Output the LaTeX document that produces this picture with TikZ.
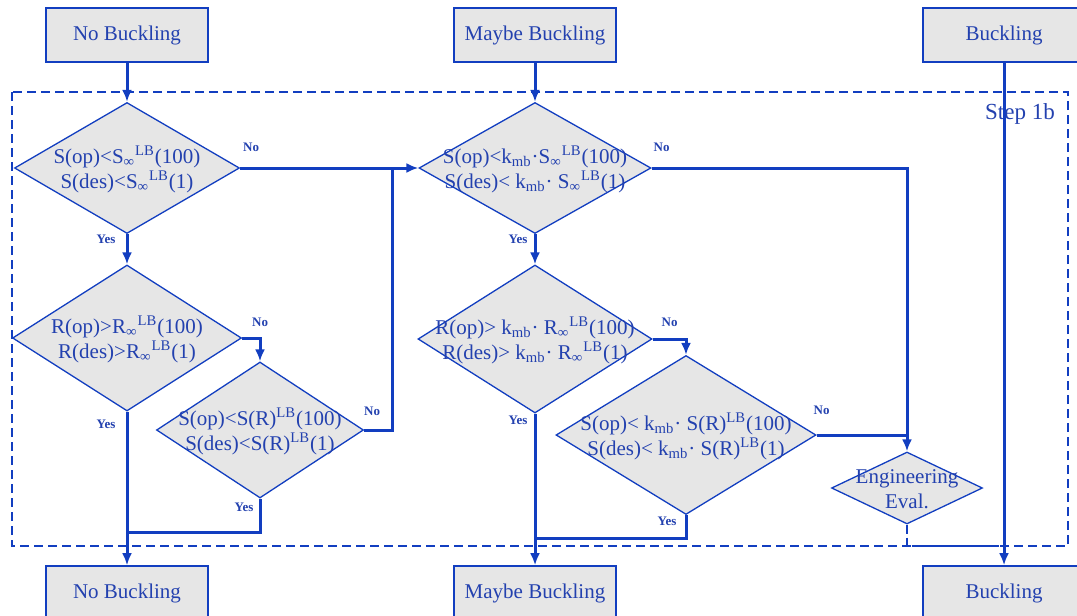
\documentclass[tikz,border=0pt]{standalone}
\usepackage{fontspec}
\setmainfont{Liberation Serif}
\usetikzlibrary{calc, arrows.meta, shapes.geometric}

\definecolor{flowblue}{RGB}{18,62,192}
\definecolor{textblue}{RGB}{35,65,175}
\definecolor{boxgray}{RGB}{230,230,230}

\tikzset{
	outcome/.style={draw=flowblue, line width=0.8pt, fill=boxgray, text=textblue,
		minimum width=81pt, minimum height=27pt, inner sep=0pt,
		font=\fontsize{10.5}{12}\selectfont},
	decision/.style={diamond, draw=flowblue, line width=0.65pt, fill=boxgray,
		inner sep=0pt, aspect=1},
	dtext/.style={text=textblue, align=center, inner sep=0pt,
		font=\fontsize{10.5}{12.5}\selectfont},
	yesno/.style={text=textblue, inner sep=0pt,
		font=\fontsize{6.5}{7}\selectfont\bfseries},
	flow/.style={draw=flowblue, line width=1.5pt},
	flowarrow/.style={flow, -{Latex[length=6pt,width=5pt]}},
	stepbox/.style={draw=flowblue, line width=1.3pt, dash pattern=on 4.5pt off 2.5pt}
}

\begin{document}
\begin{tikzpicture}[x=0.5pt, y=-0.5pt]

	\useasboundingbox (0,0) rectangle (1077,616);

	\coordinate (ljoin) at (127,532);
	\coordinate (lmerge) at (392,168);
	\coordinate (mjoin) at (535,538);
	\coordinate (rjoin) at (1004,546);

	% Step 1b frame
	\draw[stepbox] (12,92) rectangle (1068,546);
	\node[text=textblue, inner sep=0pt, font=\fontsize{11.5}{12}\selectfont]
		(steplbl) at (1020,114) {Step 1b};

	% Outcome boxes
	\node[outcome] (nbtop) at (127,35) {No Buckling};
	\node[outcome] (mbtop) at (535,35) {Maybe Buckling};
	\node[outcome] (bktop) at (1004,35) {Buckling};
	\node[outcome] (nbbot) at (127,593) {No Buckling};
	\node[outcome] (mbbot) at (535,593) {Maybe Buckling};
	\node[outcome] (bkbot) at (1004,593) {Buckling};

	% No buckling checks
	\node[decision, minimum width=112.5pt, minimum height=65.5pt] (d1) at (127,168) {};
	\node[dtext] (d1txt) at ($(d1)+(0,1)$)
		{S(op)<S\textsubscript{∞}\textsuperscript{LB}(100)\\
		 S(des)<S\textsubscript{∞}\textsuperscript{LB}(1)};
	\node[decision, minimum width=114.5pt, minimum height=73pt] (d2) at (127,338) {};
	\node[dtext] (d2txt) at ($(d2)+(0,1)$)
		{R(op)>R\textsubscript{∞}\textsuperscript{LB}(100)\\
		 R(des)>R\textsubscript{∞}\textsuperscript{LB}(1)};
	\node[decision, minimum width=103.5pt, minimum height=68pt] (d3) at (260,430) {};
	\node[dtext] (d3txt) at ($(d3)+(0,1)$)
		{S(op)<S(R)\textsuperscript{LB}(100)\\
		 S(des)<S(R)\textsuperscript{LB}(1)};

	% Maybe buckling checks
	\node[decision, minimum width=116pt, minimum height=65.5pt] (m1) at (535,168) {};
	\node[dtext] (m1txt) at ($(m1)+(0,1)$)
		{S(op)<k\textsubscript{mb}·S\textsubscript{∞}\textsuperscript{LB}(100)\\
		 S(des)< k\textsubscript{mb}· S\textsubscript{∞}\textsuperscript{LB}(1)};
	\node[decision, minimum width=117pt, minimum height=74pt] (m2) at (535,339) {};
	\node[dtext] (m2txt) at ($(m2)+(0,1)$)
		{R(op)> k\textsubscript{mb}· R\textsubscript{∞}\textsuperscript{LB}(100)\\
		 R(des)> k\textsubscript{mb}· R\textsubscript{∞}\textsuperscript{LB}(1)};
	\node[decision, minimum width=130pt, minimum height=79.5pt] (m3) at (686,435) {};
	\node[dtext] (m3txt) at ($(m3)+(0,1)$)
		{S(op)< k\textsubscript{mb}· S(R)\textsuperscript{LB}(100)\\
		 S(des)< k\textsubscript{mb}· S(R)\textsuperscript{LB}(1)};
	\node[decision, minimum width=75.5pt, minimum height=36pt] (eng) at (907,488) {};
	\node[dtext] (engtxt) at ($(eng)+(0,1)$) {Engineering\\ Eval.};

	% Left column
	\draw[flowarrow] (nbtop) -- (d1);
	\draw[flowarrow] (d1) -- (d2);
	\draw[flowarrow] (d2.east) -| (d3.north);
	\draw[flowarrow] (d2) -- (nbbot);
	\draw[flow] (d3.south) |- (ljoin);
	\draw[flow] (d3.east) -| (lmerge);
	\draw[flowarrow] (d1.east) -- (m1.west);

	% Middle column
	\draw[flowarrow] (mbtop) -- (m1);
	\draw[flowarrow] (m1) -- (m2);
	\draw[flowarrow] (m2.east) -| (m3.north);
	\draw[flowarrow] (m2) -- (mbbot);
	\draw[flow] (m3.south) |- (mjoin);
	\draw[flowarrow] (m1.east) -| (eng.north);
	\draw[flow] (m3.east) -- (m3.east -| eng.north);

	% Right column
	\draw[flowarrow] (bktop) -- (bkbot);
	\draw[flow, line width=1.1pt, dash pattern=on 4.5pt off 2pt] (eng.south) |- (rjoin);

	% Yes / No labels
	\node[yesno] (d1no) at ($(d1.east)+(11,-21)$) {No};
	\node[yesno] (d1yes) at ($(d1.south)+(-21,5)$) {Yes};
	\node[yesno] (d2no) at ($(d2.east)+(18,-16)$) {No};
	\node[yesno] (d2yes) at ($(d2.south)+(-21,13)$) {Yes};
	\node[yesno] (d3no) at ($(d3.east)+(8,-19)$) {No};
	\node[yesno] (d3yes) at ($(d3.south)+(-16,9)$) {Yes};
	\node[yesno] (m1no) at ($(m1.east)+(10,-21)$) {No};
	\node[yesno] (m1yes) at ($(m1.south)+(-17,5)$) {Yes};
	\node[yesno] (m2no) at ($(m2.east)+(17,-17)$) {No};
	\node[yesno] (m2yes) at ($(m2.south)+(-17,7)$) {Yes};
	\node[yesno] (m3no) at ($(m3.east)+(5,-25)$) {No};
	\node[yesno] (m3yes) at ($(m3.south)+(-19,6)$) {Yes};

\end{tikzpicture}
\end{document}
